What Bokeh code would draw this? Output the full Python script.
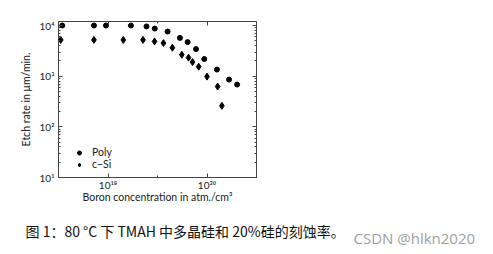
from bokeh.plotting import figure
from bokeh.layouts import column
from bokeh.models import (Range1d, LogAxis, FixedTicker, LogTicker, CustomJSTickFormatter,
                          Legend, LegendItem, Label, ColumnDataSource)
from bokeh.embed import file_html
from bokeh.resources import INLINE

# ---- data ----
boron_poly = [1.19e17, 5.2e17, 9.1e17, 2.9e18, 6.0e18, 8.8e18, 1.6e19, 2.84e19,
              4.06e19, 6.0e19, 8.8e19, 1.59e20, 2.79e20, 4.06e20]
rate_poly = [1.0e4, 1.0e4, 1.0e4, 1.0e4, 9.6e3, 8.7e3, 7.6e3, 5.7e3,
             4.7e3, 3.43e3, 2.18e3, 1.35e3, 857, 683]
boron_csi = [1.11e17, 5.2e17, 2.04e18, 5.1e18, 8.7e18, 1.32e19, 2.0e19, 3.1e19,
             4.24e19, 5.1e19, 6.8e19, 1.0e20, 1.64e20, 2.0e20]
rate_csi = [5.2e3, 5.2e3, 5.2e3, 5.2e3, 4.85e3, 4.5e3, 3.64e3, 2.65e3,
            2.32e3, 1.9e3, 1.54e3, 980, 624, 260]
series_names = ["Poly", "c\u2212Si"]
x_title = "Boron concentration in atm./cm\u00b3"
y_title = "Etch rate in \u03bcm/min."
caption = "\u56fe 1\uff1a80 \u00b0C \u4e0b TMAH \u4e2d\u591a\u6676\u7845\u548c 20%\u7845\u7684\u523b\u8680\u7387\u3002"
watermark = "CSDN @hlkn2020"

FONT = "Lato"
AX = "#444444"

p = figure(width=493, height=207, x_axis_type="log", y_axis_type="log",
           output_backend="svg", toolbar_location=None,
           x_range=Range1d(1e17, 1e21), y_range=Range1d(10, 1.2e4),
           min_border_left=58, min_border_right=237, min_border_top=21, min_border_bottom=30)
p.frame_align = False
p.background_fill_color = "white"
p.border_fill_color = "white"
p.outline_line_color = AX
p.grid.visible = False

sup_js = """
const s = {'0':'\\u2070','1':'\\u00b9','2':'\\u00b2','3':'\\u00b3','4':'\\u2074','5':'\\u2075','6':'\\u2076','7':'\\u2077','8':'\\u2078','9':'\\u2079'};
const e = Math.round(Math.log10(tick));
return '10' + String(e).split('').map(c => s[c]).join('');
"""
fmt = CustomJSTickFormatter(code=sup_js)

def style(ax, labels=True):
    ax.axis_line_color = None
    ax.major_tick_in = 4
    ax.major_tick_out = 0
    ax.minor_tick_in = 2
    ax.minor_tick_out = 0
    ax.major_tick_line_color = AX
    ax.minor_tick_line_color = AX
    ax.major_label_text_font = FONT
    ax.major_label_text_font_size = "10px"
    ax.major_label_text_color = "#222222"
    ax.axis_label_text_font = FONT
    ax.axis_label_text_font_size = "10.5px"
    ax.axis_label_text_font_style = "normal"
    ax.axis_label_text_color = "#222222"
    if not labels:
        ax.formatter = CustomJSTickFormatter(code="return '';")

xa = p.xaxis[0]
xa.ticker = FixedTicker(ticks=[1e18, 1e20], minor_ticks=[1e17, 1e19, 1e21])
xa.axis_label = x_title
xa.major_label_standoff = 1
xa.axis_label_standoff = -3
style(xa)
xa.formatter = fmt

ya = p.yaxis[0]
ya.ticker = LogTicker(num_minor_ticks=10)
ya.axis_label = y_title
ya.major_label_standoff = 4
ya.axis_label_standoff = 5
style(ya)
ya.formatter = fmt

ra = LogAxis(ticker=LogTicker(num_minor_ticks=10))
style(ra, labels=False)
p.add_layout(ra, "right")
ta = LogAxis(ticker=FixedTicker(ticks=[1e18, 1e20], minor_ticks=[1e17, 1e19, 1e21]))
style(ta, labels=False)
p.add_layout(ta, "above")

src_p = ColumnDataSource(dict(x=boron_poly, y=rate_poly))
src_c = ColumnDataSource(dict(x=boron_csi, y=rate_csi))
r1 = p.scatter("x", "y", source=src_p, marker="circle", size=5, color="black")
r2 = p.scatter("x", "y", source=src_c, marker="diamond", size=7, color="black")

leg = Legend(items=[LegendItem(label=series_names[0], renderers=[r1]),
                    LegendItem(label=series_names[1], renderers=[r2])],
             location=(16, 7), background_fill_alpha=0, border_line_color=None,
             padding=0, margin=0, spacing=0, glyph_width=10, glyph_height=11,
             label_height=11, label_standoff=8, label_text_font=FONT,
             label_text_font_size="10.5px", label_text_color="#222222")
p.add_layout(leg)

# caption strip below the chart
c = figure(width=493, height=47, output_backend="svg", toolbar_location=None,
           x_range=Range1d(0, 493), y_range=Range1d(0, 47),
           min_border=0, min_border_left=0, min_border_right=0,
           min_border_top=0, min_border_bottom=0)
c.frame_align = False
c.axis.visible = False
c.grid.visible = False
c.outline_line_color = None
c.background_fill_color = "white"
c.border_fill_color = "white"

cap = Label(x=25, y=24, x_units="screen", y_units="screen", text=caption,
            text_baseline="middle",
            text_font="Noto Sans CJK SC", text_font_size="14px", text_color="#111111")
wm = Label(x=353, y=17, x_units="screen", y_units="screen", text=watermark,
           text_baseline="middle",
           text_font="Open Sans", text_font_size="15px", text_color="#a0a0a0")
c.add_layout(cap)
c.add_layout(wm)

layout = column(p, c, spacing=0)
open("out.html", "w").write(file_html(layout, INLINE))
